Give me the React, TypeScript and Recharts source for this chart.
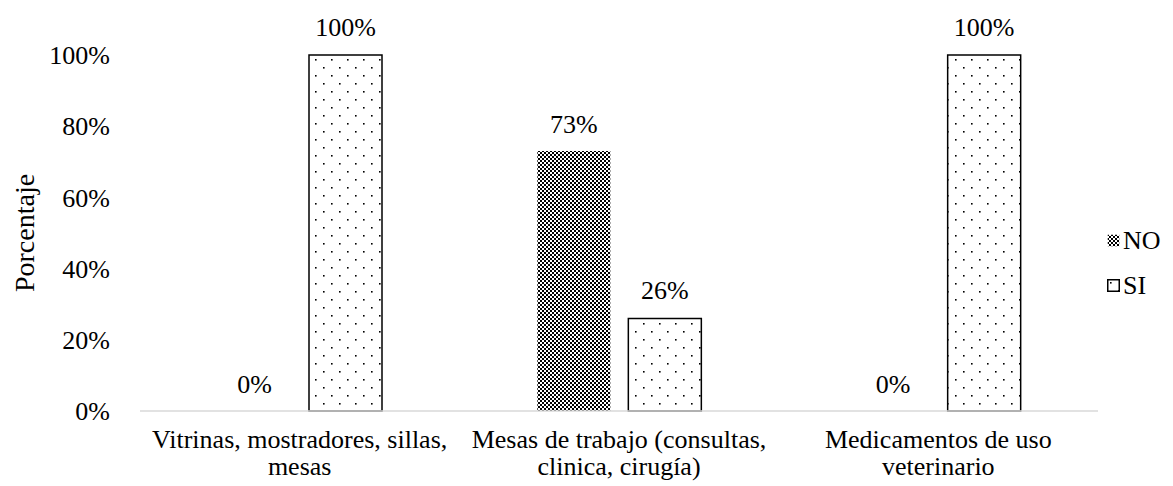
import React from 'react';
import { BarChart, Bar, XAxis, YAxis, LabelList, Legend } from 'recharts';

const categories = [
  'Vitrinas, mostradores, sillas,\nmesas',
  'Mesas de trabajo (consultas,\nclinica, cirugía)',
  'Medicamentos de uso\nveterinario',
];
const noValues = [0, 73, 0];
const siValues = [100, 26, 100];
const yTicks = [0, 20, 40, 60, 80, 100];

const data = categories.map((c, i) => ({ name: c, NO: noValues[i], SI: siValues[i] }));

const FONT = 'Liberation Serif, Tinos, Times New Roman, Times, DejaVu Serif, serif';
const FS = 26;

const Patterns = () => (
  <svg width={0} height={0} style={{ position: 'absolute' }}>
    <defs>
      <pattern id="checker" patternUnits="userSpaceOnUse" width={4} height={4}>
        <rect x={0} y={0} width={4} height={4} fill="#fff" />
        <rect x={0} y={0} width={2} height={2} fill="#000" />
        <rect x={2} y={2} width={2} height={2} fill="#000" />
      </pattern>
      <pattern id="dots" patternUnits="userSpaceOnUse" width={16} height={16}>
        <rect x={0} y={0} width={16} height={16} fill="#fff" />
        <rect x={3} y={3} width={1.6} height={1.6} fill="#000" />
        <rect x={11} y={11} width={1.6} height={1.6} fill="#000" />
      </pattern>
    </defs>
  </svg>
);

const XTick = (props: any) => {
  const { x, y, payload } = props;
  const lines = String(payload.value).split('\n');
  return (
    <text x={x} y={y} textAnchor="middle" style={{ fontFamily: FONT, fontSize: FS }} fill="#000">
      {lines.map((l, i) => (
        <tspan key={i} x={x} dy={i === 0 ? 29 : 27}>
          {l}
        </tspan>
      ))}
    </text>
  );
};

const LegendContent = () => {
  const items = [
    { key: 'NO', fill: 'url(#checker)', stroke: 'none' },
    { key: 'SI', fill: 'url(#dots)', stroke: '#000' },
  ];
  return (
    <div style={{ fontFamily: FONT, fontSize: FS, color: '#000' }}>
      {items.map((it) => (
        <div key={it.key} style={{ display: 'flex', alignItems: 'center', height: 45, paddingLeft: 9 }}>
          <svg width={13} height={13} style={{ marginRight: 3 }}>
            <rect x={0.75} y={0.75} width={11.5} height={11.5} fill={it.fill} stroke={it.stroke} strokeWidth={1.5} />
          </svg>
          <span style={{ lineHeight: '26px' }}>{it.key}</span>
        </div>
      ))}
    </div>
  );
};

const textStyle = { fontFamily: FONT, fontSize: FS, fill: '#000' };

export default function App() {
  return (
    <div style={{ position: 'absolute', left: 0, top: 0, width: 1173, height: 486, background: '#fff', fontFamily: FONT }}>
      <Patterns />
      <BarChart
        width={1173}
        height={486}
        data={data}
        margin={{ top: 55, right: 5, bottom: 0, left: 0 }}
        barGap={18}
        style={{ fontFamily: FONT }}
      >
        <XAxis
          dataKey="name"
          height={75}
          interval={0}
          tickLine={false}
          axisLine={{ stroke: '#d9d9d9', strokeWidth: 1.5 }}
          tick={<XTick />}
        />
        <YAxis
          width={140}
          domain={[0, 100]}
          ticks={yTicks}
          tickFormatter={(v: number) => `${v}%`}
          axisLine={false}
          tickLine={false}
          tickMargin={24}
          tick={{ ...textStyle, style: textStyle }}
          label={{
            value: 'Porcentaje',
            angle: -90,
            position: 'insideLeft',
            offset: 24,
            style: { ...textStyle, fontSize: 28, textAnchor: 'middle' },
          }}
        />
        <Legend
          layout="vertical"
          align="right"
          verticalAlign="middle"
          content={<LegendContent />}
          wrapperStyle={{ width: 70, top: 218 }}
        />
        <Bar dataKey="NO" barSize={73} minPointSize={0.01} fill="url(#checker)" isAnimationActive={false}>
          <LabelList
            dataKey="NO"
            position="top"
            offset={18}
            formatter={(v: any) => `${v}%`}
            fontFamily={FONT}
            fontSize={FS}
            fill="#000"
            style={textStyle}
          />
        </Bar>
        <Bar dataKey="SI" barSize={73} fill="url(#dots)" stroke="#000" strokeWidth={1.5} isAnimationActive={false}>
          <LabelList
            dataKey="SI"
            position="top"
            offset={19}
            formatter={(v: any) => `${v}%`}
            fontFamily={FONT}
            fontSize={FS}
            fill="#000"
            style={textStyle}
          />
        </Bar>
      </BarChart>
    </div>
  );
}
